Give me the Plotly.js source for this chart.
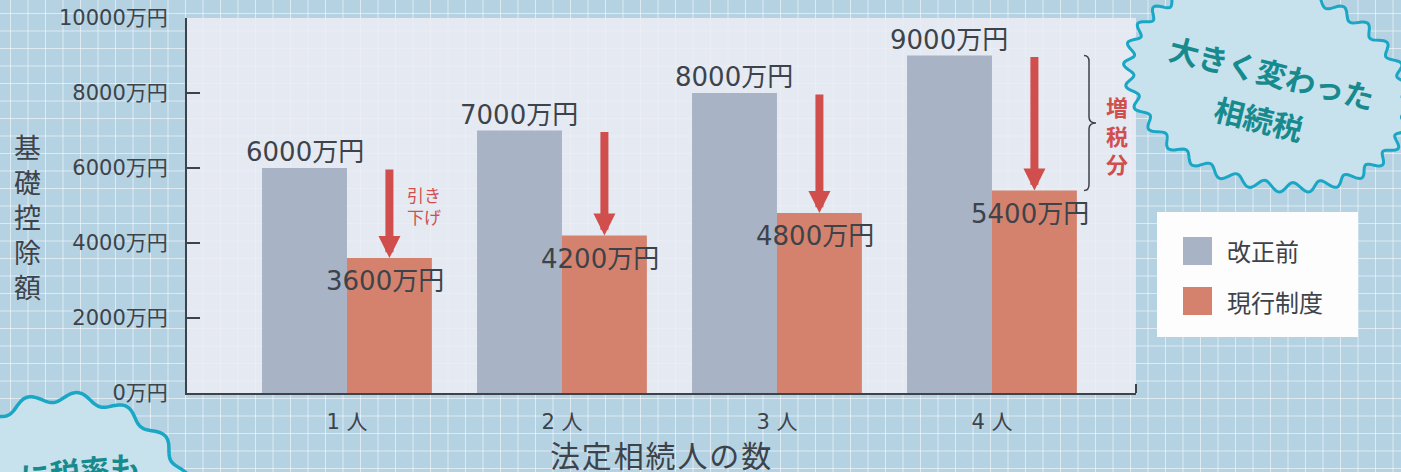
<!DOCTYPE html>
<html>
<head>
<meta charset="utf-8">
<script src="https://cdn.plot.ly/plotly-3.0.1.min.js"></script>
<style>
  html, body { margin: 0; padding: 0; }
  #chart {
    width: 1401px; height: 472px;
    background-color: #b5d2e2;
    background-image:
      linear-gradient(rgba(255,255,255,0.55) 1px, transparent 1px),
      linear-gradient(90deg, rgba(255,255,255,0.55) 1px, transparent 1px);
    background-size: 17.5px 17.5px;
    background-position: 10px 13px;
  }
</style>
</head>
<body>
<div id="chart"></div>
<script>
// ---- data ----
const categories = ['1 人', '2 人', '3 人', '4 人'];
const seriesNames = ['改正前', '現行制度'];
const beforeValues = [6000, 7000, 8000, 9000];
const currentValues = [3600, 4200, 4800, 5400];
const yTickValues = [0, 2000, 4000, 6000, 8000, 10000];
const unit = '万円';
const yTickLabels = yTickValues.map(v => v + unit);
const yTitle = '基礎控除額';
const xTitle = '法定相続人の数';
const cutLabel = '引き<br>下げ';
const increaseLabel = '増税分';
const badgeLines = ['大きく変わった', '相続税'];
const badge2Text = 'に税率も';

// ---- style ----
const numFont = 'DejaVu Sans, "Noto Sans CJK JP", sans-serif';
const jpFont = '"Noto Sans CJK JP", sans-serif';
const textColor = '#3d434a';
const grayColor = '#a8b3c5';
const orangeColor = '#d4826d';
const redColor = '#d04f4d';
const tealLine = '#19a7c5';
const tealText = '#178a8e';
const badgeFill = '#c7e2ec';

const L = 187, T = 18, PW = 949, PH = 375;
const px2x = p => (p - L) / PW;
const px2y = p => (T + PH - p) / PH;

const bargap = 0.21;
const half = (1 - bargap) / 4; // offset of each bar center from category center

const traces = [
  { type: 'bar', x: categories, y: beforeValues, name: seriesNames[0],
    marker: { color: grayColor }, hoverinfo: 'skip' },
  { type: 'bar', x: categories, y: currentValues, name: seriesNames[1],
    marker: { color: orangeColor }, hoverinfo: 'skip' }
];

const annotations = [];
function note(o) {
  annotations.push(Object.assign({ xref: 'paper', yref: 'paper', showarrow: false,
    xanchor: 'center', yanchor: 'middle' }, o));
}
categories.forEach((c, i) => {
  note({ x: i - half, y: beforeValues[i], xref: 'x', yref: 'y',
    text: beforeValues[i] + unit, yshift: 16,
    font: { family: numFont, size: 26, color: textColor } });
  note({ x: i + half, y: currentValues[i], xref: 'x', yref: 'y',
    text: currentValues[i] + unit, yshift: -23, xshift: -4,
    font: { family: numFont, size: 26, color: textColor } });
  annotations.push({ x: i + half, y: currentValues[i], xref: 'x', yref: 'y',
    ax: i + half, ay: beforeValues[i], axref: 'x', ayref: 'y',
    text: '', showarrow: true, arrowhead: 2, arrowsize: 0.55, arrowwidth: 8,
    arrowcolor: redColor, standoff: 0 });
});

// cut label
note({ x: px2x(424), y: px2y(205), text: cutLabel,
  font: { family: jpFont, size: 17, color: redColor } });

// 増税分 stacked
note({ x: px2x(1117), y: px2y(134), text: [...increaseLabel].join('<br>'),
  font: { family: jpFont, size: 22, color: redColor, weight: 'bold' } });

// axis titles
note({ x: px2x(27), y: px2y(217), text: [...yTitle].join('<br>'),
  font: { family: jpFont, size: 27, color: textColor } });
note({ x: px2x(660), y: px2y(454), text: [...xTitle].join('\u200A'),
  font: { family: jpFont, size: 30, color: textColor } });

// legend texts
note({ x: px2x(1225), y: px2y(251), xanchor: 'left', text: seriesNames[0],
  font: { family: jpFont, size: 24, color: textColor } });
note({ x: px2x(1225), y: px2y(301), xanchor: 'left', text: seriesNames[1],
  font: { family: jpFont, size: 24, color: textColor } });

// badge texts
note({ x: px2x(1272), y: px2y(72), text: badgeLines[0], textangle: 14,
  font: { family: jpFont, size: 30, color: tealText, weight: 'bold' } });
note({ x: px2x(1259), y: px2y(118), text: badgeLines[1], textangle: 14,
  font: { family: jpFont, size: 30, color: tealText, weight: 'bold' } });
note({ x: px2x(80), y: px2y(470), text: badge2Text, textangle: -6,
  font: { family: jpFont, size: 30, color: tealText, weight: 'bold' } });

// wavy badge outlines (decoration)
function wavy(cx, cy, a, b, rotDeg, n, amp) {
  const r = rotDeg * Math.PI / 180, steps = 480;
  let d = '';
  for (let k = 0; k <= steps; k++) {
    const t = 2 * Math.PI * k / steps;
    const w = amp * Math.sin(n * t);
    const x = (a + w) * Math.cos(t), y = (b + w) * Math.sin(t);
    const X = cx + x * Math.cos(r) - y * Math.sin(r);
    const Y = cy + x * Math.sin(r) + y * Math.cos(r);
    d += (k === 0 ? 'M' : 'L') + px2x(X).toFixed(5) + ',' + px2y(Y).toFixed(5);
  }
  return d + 'Z';
}

const v3 = beforeValues[3], c3 = currentValues[3], mid = (v3 + c3) / 2, dd = 160;
const xa = px2x(1084), xb = px2x(1089), xc = px2x(1096);
const bracePath = `M${xa},${v3} Q${xb},${v3} ${xb},${v3 - dd} L${xb},${mid + dd} Q${xb},${mid} ${xc},${mid} Q${xb},${mid} ${xb},${mid - dd} L${xb},${c3 + dd} Q${xb},${c3} ${xa},${c3}`;

const shapes = [
  { type: 'path', xref: 'paper', yref: 'paper', path: wavy(1268, 86, 142, 98, 15, 30, 5),
    fillcolor: badgeFill, line: { color: tealLine, width: 3 } },
  { type: 'path', xref: 'paper', yref: 'paper', path: wavy(65, 513, 125, 116, 0, 16, 5),
    fillcolor: badgeFill, line: { color: tealLine, width: 3.5 } },
  { type: 'path', xref: 'paper', yref: 'y', path: bracePath,
    line: { color: textColor, width: 1.5 } },
  { type: 'rect', xref: 'paper', yref: 'paper', x0: px2x(1157), x1: px2x(1358), y0: px2y(337), y1: px2y(212),
    fillcolor: '#fdfdfd', line: { width: 0 } },
  { type: 'rect', xref: 'paper', yref: 'paper', x0: px2x(1183), x1: px2x(1212), y0: px2y(265), y1: px2y(237),
    fillcolor: grayColor, line: { width: 0 } },
  { type: 'rect', xref: 'paper', yref: 'paper', x0: px2x(1183), x1: px2x(1212), y0: px2y(315), y1: px2y(287),
    fillcolor: orangeColor, line: { width: 0 } },
  { type: 'line', xref: 'paper', yref: 'paper', x0: 1, x1: 1, y0: 0, y1: 9 / PH,
    line: { color: textColor, width: 2 } }
];

const layout = {
  width: 1401, height: 472,
  margin: { l: L, r: 1401 - L - PW, t: T, b: 472 - T - PH, pad: 0 },
  paper_bgcolor: 'rgba(0,0,0,0)',
  plot_bgcolor: 'rgba(236,237,245,0.85)',
  barmode: 'group', bargap: bargap, bargroupgap: 0,
  showlegend: false,
  xaxis: {
    type: 'category', range: [-0.744, 3.67], fixedrange: true,
    showline: true, linecolor: textColor, linewidth: 2,
    ticks: '', showgrid: false, zeroline: false,
    tickfont: { family: numFont, size: 21, color: textColor },
    ticklabelstandoff: 9
  },
  yaxis: {
    range: [0, 10000], fixedrange: true,
    tickvals: yTickValues, ticktext: yTickLabels,
    ticks: 'inside', ticklen: 13, tickwidth: 2, tickcolor: textColor,
    showline: true, linecolor: textColor, linewidth: 2,
    showgrid: false, zeroline: false,
    tickfont: { family: numFont, size: 21, color: textColor },
    ticklabelstandoff: 13
  },
  annotations: annotations,
  shapes: shapes
};

Plotly.newPlot('chart', traces, layout, { displayModeBar: false, staticPlot: true });
</script>
</body>
</html>
